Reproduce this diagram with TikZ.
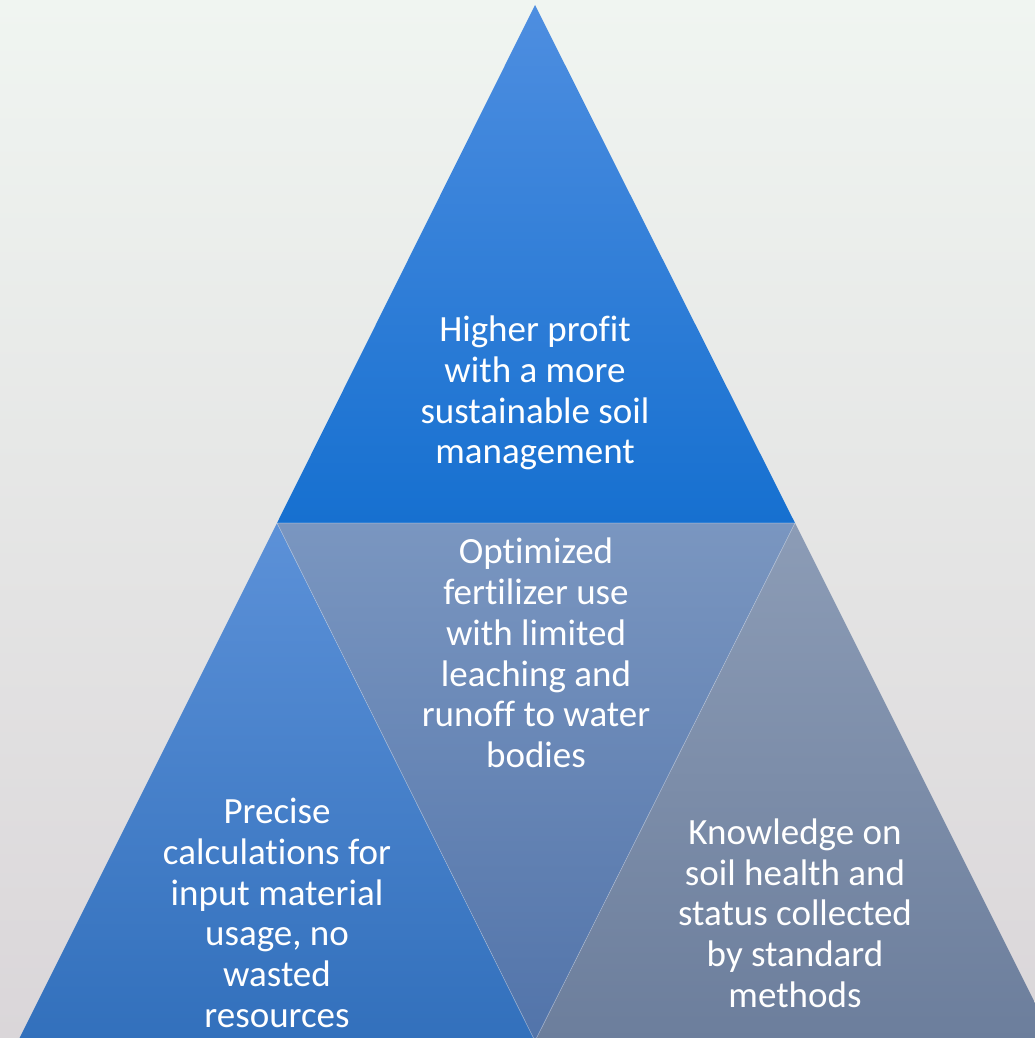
\documentclass[tikz,border=0pt]{standalone}
\usepackage{fontspec}
\setmainfont{Carlito}[Ligatures=NoCommon]
\definecolor{bgtop}{RGB}{240,245,241}
\definecolor{bgmid}{RGB}{238,240,236}
\definecolor{bgbot}{RGB}{218,214,217}
\definecolor{toptop}{RGB}{78,142,224}
\definecolor{topbot}{RGB}{22,112,208}
\definecolor{midtop}{RGB}{122,150,192}
\definecolor{midbot}{RGB}{82,116,170}
\definecolor{lefttop}{RGB}{92,145,216}
\definecolor{leftbot}{RGB}{50,112,188}
\definecolor{righttop}{RGB}{140,156,182}
\definecolor{rightbot}{RGB}{108,126,156}
\tikzset{
  seglabel/.style={align=center, text=white, inner sep=0pt,
    font=\fontsize{37}{40.7}\selectfont},
  segedge/.style={draw=white, draw opacity=0.35, line width=0.6pt}
}
\begin{document}
\begin{tikzpicture}[x=1pt,y=-1pt]
\useasboundingbox (0,0) rectangle (1035,1038);
\shade[top color=bgtop, middle color=bgmid, bottom color=bgbot] (0,0) rectangle (1035,1038);
% coordinates
\coordinate (apex) at (535,5);
\coordinate (ml) at (277,523);
\coordinate (mr) at (795,523);
\coordinate (bl) at (18,1041);
\coordinate (bm) at (535,1041);
\coordinate (br) at (1054,1041);
% segments
\shade[top color=toptop, bottom color=topbot] (apex) -- (mr) -- (ml) -- cycle;
\shade[top color=lefttop, bottom color=leftbot] (ml) -- (bm) -- (bl) -- cycle;
\shade[top color=righttop, bottom color=rightbot] (mr) -- (br) -- (bm) -- cycle;
\shade[top color=midtop, bottom color=midbot] (ml) -- (mr) -- (bm) -- cycle;
\path[segedge] (ml) -- (mr) -- (bm) -- cycle;
% labels
\node[seglabel] (t) at (535,393) {Higher profit\\with a more\\sustainable soil\\management};
\node[seglabel] (m) at (536,653) {Optimized\\fertilizer use\\with limited\\leaching and\\runoff to water\\bodies};
\node[seglabel] (l) at (277,913) {Precise\\calculations for\\input material\\usage, no\\wasted\\resources};
\node[seglabel] (r) at (795,913) {Knowledge on\\soil health and\\status collected\\by standard\\methods};
\end{tikzpicture}
\end{document}
